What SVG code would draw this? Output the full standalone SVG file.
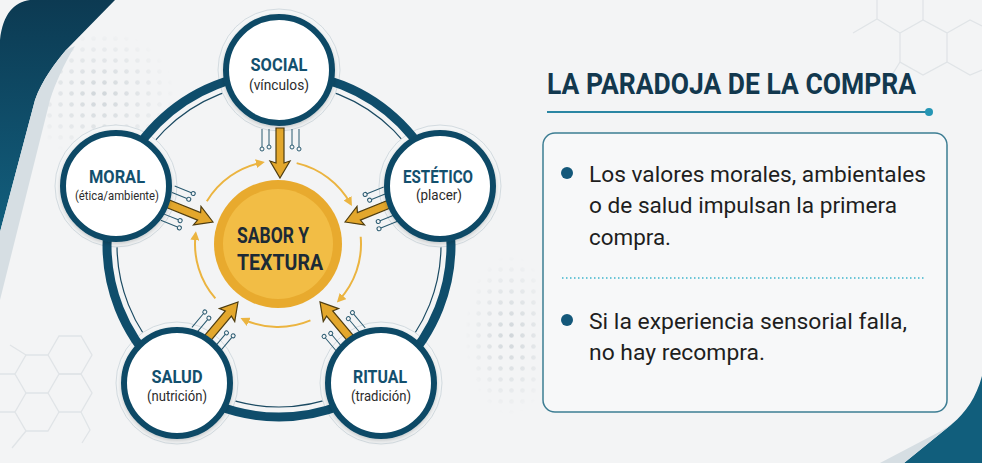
<svg xmlns="http://www.w3.org/2000/svg" xmlns:xlink="http://www.w3.org/1999/xlink" width="982" height="463" viewBox="0 0 982 463">
<style>
.ttl{font-family:Roboto,"Liberation Sans",sans-serif;font-weight:700;fill:#13506e;text-anchor:middle}
.sub{font-family:Roboto,"Liberation Sans",sans-serif;font-weight:400;fill:#2b2b2b;text-anchor:middle}
.body{font-family:Roboto,"Liberation Sans",sans-serif;font-size:22.5px;fill:#1e1e1e}
.hex{fill:none;stroke:#e0e4e7;stroke-width:1.3}
.halo{fill:#f4f6f7;stroke:#d3dbe0;stroke-width:1}
.node{fill:#ffffff;stroke:#0f4a66;stroke-width:6}
.orbit{fill:none;stroke:#ebb440;stroke-width:2;marker-end:url(#oh)}
</style>
<defs>
<linearGradient id="tealg" x1="0" y1="0" x2="0" y2="1">
<stop offset="0" stop-color="#0c3a52"/><stop offset="1" stop-color="#125f7e"/>
</linearGradient>
<pattern id="dots" width="11" height="11" patternUnits="userSpaceOnUse">
<circle cx="5.5" cy="5.5" r="2.3" fill="#cfd5d9"/>
</pattern>
<radialGradient id="fade"><stop offset="0" stop-color="#fff"/><stop offset="1" stop-color="#000"/></radialGradient>
<mask id="m1"><ellipse cx="100" cy="95" rx="75" ry="65" fill="url(#fade)"/></mask>
<mask id="m2"><ellipse cx="510" cy="335" rx="45" ry="80" fill="url(#fade)"/></mask>
<filter id="sh" x="-20%" y="-20%" width="140%" height="140%">
<feDropShadow dx="0" dy="2" stdDeviation="2" flood-color="#000" flood-opacity="0.18"/>
</filter>
<marker id="oh" viewBox="0 0 10 10" refX="7" refY="5" markerWidth="4.5" markerHeight="4.5" orient="auto">
<path d="M0,0 L10,5 L0,10 Z" fill="#ebb440"/>
</marker>
<path id="garrow" d="M0,0 L-17,-10 L-15,-4 L-50,-4 L-50,4 L-15,4 L-17,10 Z" fill="#e3a72c" stroke="#4f3d10" stroke-width="1.2" stroke-linejoin="miter"/>
<g id="circ">
<path d="M-49,-19 H-31 M-49,-12 H-33 M-49,11 H-33 M-49,18 H-31" fill="none" stroke="#2a5a70" stroke-width="1"/>
<circle cx="-29" cy="-19" r="2" fill="#f4f5f6" stroke="#2a5a70" stroke-width="1"/>
<circle cx="-31" cy="-12" r="2" fill="#f4f5f6" stroke="#2a5a70" stroke-width="1"/>
<circle cx="-31" cy="11" r="2" fill="#f4f5f6" stroke="#2a5a70" stroke-width="1"/>
<circle cx="-29" cy="18" r="2" fill="#f4f5f6" stroke="#2a5a70" stroke-width="1"/>
</g>
</defs>

<!-- background -->
<rect width="982" height="463" fill="#f3f4f5"/>
<rect x="30" y="25" width="150" height="140" fill="url(#dots)" mask="url(#m1)"/>
<rect x="460" y="250" width="90" height="170" fill="url(#dots)" mask="url(#m2)"/>
<g class="hex">
<path d="M15,374 L26,355 L48,355 L59,374 L48,393 L26,393 Z"/>
<path d="M48,355 L59,336 L81,336 L92,355 L81,374 L59,374"/>
<path d="M59,374 L81,374 L92,393 L81,412 L59,412 L48,393"/>
<path d="M26,393 L15,412 L26,431 L48,431 L59,412"/>
<path d="M15,374 L0,374 M26,355 L10,345 M15,412 L0,412 M26,431 L12,448"/>
<path d="M81,412 L90,430 L82,443"/>
</g>
<g class="hex">
<path d="M900,33 L923,20 L947,33 L947,62 L923,75 L900,62 Z"/>
<path d="M900,33 L877,19 L853,33 M877,19 L877,0 M923,20 L923,0 M947,33 L970,20 L982,26 M947,62 L970,75 L982,70 M900,62 L892,75"/>
</g>
<path d="M0,40 C3,14 14,2 30,0 L115,0 L66,50 C56,62 42,80 35,100 L0,232 Z" fill="url(#tealg)"/>
<path d="M66,50 L75,46 C64,64 55,84 50,100 L0,300 L0,232 L35,100 C42,80 56,62 66,50 Z" fill="#d6dee3"/>
<path d="M982,376 C976,398 966,412 952,424 L904,463 L982,463 Z" fill="#115e7c"/>
<path d="M952,424 L941,431 L880,463 L904,463 Z" fill="#d6dee3"/>

<!-- ring -->
<g id="ring">
<circle cx="279" cy="245" r="162" fill="none" stroke="#1b4a62" stroke-width="1.2"/>
<circle cx="279" cy="70" r="61" class="halo"/>
<circle cx="116" cy="186" r="61" class="halo"/>
<circle cx="440" cy="186" r="61" class="halo"/>
<circle cx="177" cy="383" r="61" class="halo"/>
<circle cx="381" cy="383" r="61" class="halo"/>
<circle cx="279" cy="245" r="172" fill="none" stroke="#0f4d6b" stroke-width="9"/>
</g>

<!-- connectors -->
<g id="connectors">
<use href="#circ" transform="translate(280,178) rotate(90)"/>
<use href="#circ" transform="translate(213,222) rotate(22)"/>
<use href="#circ" transform="translate(345,222) rotate(158)"/>
<use href="#circ" transform="translate(238,302) rotate(-50)"/>
<use href="#circ" transform="translate(320,302) rotate(-130)"/>
<use href="#garrow" transform="translate(280,178) rotate(90)"/>
<use href="#garrow" transform="translate(213,222) rotate(22)"/>
<use href="#garrow" transform="translate(345,222) rotate(158)"/>
<use href="#garrow" transform="translate(238,302) rotate(-50)"/>
<use href="#garrow" transform="translate(320,302) rotate(-130)"/>
<path class="orbit" d="M206.85,201.25 A83,83 0 0 1 262.16,162.53"/>
<path class="orbit" d="M296.67,163.13 A83,83 0 0 1 350.59,203.76"/>
<path class="orbit" d="M360.68,236.76 A83,83 0 0 1 338.70,300.61"/>
<path class="orbit" d="M310.43,320.40 A83,83 0 0 1 242.92,319.22"/>
<path class="orbit" d="M215.36,298.46 A83,83 0 0 1 195.62,233.88"/>
</g>

<!-- nodes -->
<g id="center">
<circle cx="278" cy="244" r="64" fill="#e8aa2e"/>
<circle cx="278" cy="244" r="55" fill="#f2bd45"/>
<text x="273" y="243" font-family="Roboto,'Liberation Sans',sans-serif" font-weight="700" font-size="22" fill="#1c2a36" text-anchor="middle" textLength="72" lengthAdjust="spacingAndGlyphs">SABOR Y</text>
<text x="280" y="270" font-family="Roboto,'Liberation Sans',sans-serif" font-weight="700" font-size="22" fill="#1c2a36" text-anchor="middle" textLength="86" lengthAdjust="spacingAndGlyphs">TEXTURA</text>
</g>
<g id="social">
<circle cx="279" cy="70" r="53" class="node" filter="url(#sh)"/>
<text x="279" y="71" class="ttl" font-size="18" textLength="57" lengthAdjust="spacingAndGlyphs">SOCIAL</text>
<text x="279" y="90" class="sub" font-size="14" textLength="60" lengthAdjust="spacingAndGlyphs">(vínculos)</text>
</g>
<g id="moral">
<circle cx="116" cy="186" r="53" class="node" filter="url(#sh)"/>
<text x="117" y="183" class="ttl" font-size="18" textLength="56" lengthAdjust="spacingAndGlyphs">MORAL</text>
<text x="117" y="200" class="sub" font-size="13.5" textLength="84" lengthAdjust="spacingAndGlyphs">(ética/ambiente)</text>
</g>
<g id="estetico">
<circle cx="440" cy="186" r="53" class="node" filter="url(#sh)"/>
<text x="438" y="183" class="ttl" font-size="18" textLength="70" lengthAdjust="spacingAndGlyphs">ESTÉTICO</text>
<text x="439" y="200" class="sub" font-size="14" textLength="46" lengthAdjust="spacingAndGlyphs">(placer)</text>
</g>
<g id="salud">
<circle cx="177" cy="383" r="53" class="node" filter="url(#sh)"/>
<text x="177" y="383" class="ttl" font-size="18" textLength="51" lengthAdjust="spacingAndGlyphs">SALUD</text>
<text x="177" y="401" class="sub" font-size="14" textLength="60" lengthAdjust="spacingAndGlyphs">(nutrición)</text>
</g>
<g id="ritual">
<circle cx="381" cy="383" r="53" class="node" filter="url(#sh)"/>
<text x="380" y="383" class="ttl" font-size="18" textLength="54" lengthAdjust="spacingAndGlyphs">RITUAL</text>
<text x="381" y="401" class="sub" font-size="14" textLength="60" lengthAdjust="spacingAndGlyphs">(tradición)</text>
</g>

<!-- right panel -->
<g id="title">
<text x="547" y="94" font-family="Roboto,'Liberation Sans',sans-serif" font-weight="700" font-size="30" fill="#12384e" textLength="369" lengthAdjust="spacingAndGlyphs">LA PARADOJA DE LA COMPRA</text>
<line x1="547" y1="112" x2="927" y2="112" stroke="#2a86a3" stroke-width="2"/>
<circle cx="929" cy="112" r="4" fill="#2596b5"/>
</g>
<g id="panel">
<rect x="543" y="133" width="404" height="279" rx="12" fill="#f7f8f9" stroke="#3d7d93" stroke-width="1.5"/>
<circle cx="567" cy="173" r="6" fill="#14587a"/>
<text class="body" x="589" y="182" textLength="337" lengthAdjust="spacingAndGlyphs">Los valores morales, ambientales</text>
<text class="body" x="589" y="213" textLength="308" lengthAdjust="spacingAndGlyphs">o de salud impulsan la primera</text>
<text class="body" x="589" y="245" textLength="82" lengthAdjust="spacingAndGlyphs">compra.</text>
<line x1="562" y1="278" x2="926" y2="278" stroke="#3fb4cc" stroke-width="1.5" stroke-dasharray="1.5 2.5"/>
<circle cx="567" cy="320" r="6" fill="#14587a"/>
<text class="body" x="589" y="329" textLength="318" lengthAdjust="spacingAndGlyphs">Si la experiencia sensorial falla,</text>
<text class="body" x="589" y="360" textLength="176" lengthAdjust="spacingAndGlyphs">no hay recompra.</text>
</g>
</svg>
